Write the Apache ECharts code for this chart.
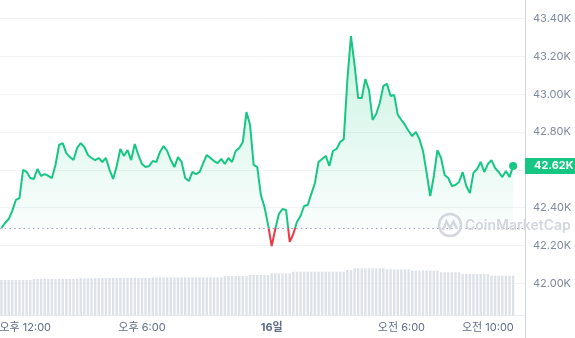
<!DOCTYPE html>
<html><head><meta charset="utf-8">
<script src="https://cdn.jsdelivr.net/npm/echarts@6/dist/echarts.min.js"></script>
<style>html,body{margin:0;padding:0;background:#fff}#c{width:575px;height:338px}</style>
</head><body><div id="c"></div>
<script>
// price (K USD), one reading every 10 minutes starting 15일 11:30
const priceValues = [
42.293,42.319,42.340,42.383,42.441,42.451,42.600,42.589,42.557,42.552,
42.605,42.568,42.578,42.568,42.557,42.626,42.732,42.742,42.689,42.668,
42.652,42.716,42.742,42.721,42.679,42.663,42.652,42.663,42.642,42.663,
42.600,42.552,42.621,42.711,42.674,42.705,42.652,42.737,42.679,42.631,
42.615,42.621,42.647,42.642,42.695,42.726,42.700,42.652,42.615,42.668,
42.642,42.557,42.541,42.589,42.578,42.589,42.636,42.679,42.663,42.647,
42.636,42.658,42.631,42.663,42.642,42.700,42.716,42.748,42.906,42.838,
42.626,42.615,42.467,42.404,42.309,42.197,42.287,42.367,42.393,42.388,
42.219,42.261,42.324,42.356,42.409,42.414,42.473,42.531,42.642,42.658,
42.674,42.621,42.700,42.711,42.748,42.763,43.076,43.308,43.155,42.980,
42.980,43.081,43.023,42.864,42.896,42.954,43.044,43.055,42.991,42.996,
42.891,42.864,42.838,42.806,42.779,42.801,42.763,42.700,42.584,42.462,
42.568,42.705,42.663,42.573,42.557,42.515,42.520,42.536,42.589,42.515,
42.478,42.584,42.605,42.642,42.589,42.631,42.652,42.610,42.589,42.562,
42.594,42.562,42.620];
// volume (B), same timestamps
const volumeValues = [
17.85,17.85,17.85,17.85,17.85,17.85,17.85,17.85,17.85,
18.35,18.35,18.35,18.35,18.35,18.35,18.35,18.35,18.35,18.35,18.35,18.35,18.35,
18.7,18.7,18.7,18.7,18.7,18.7,
18.85,18.85,18.85,18.85,18.85,18.85,18.85,18.85,18.85,18.85,18.85,18.85,18.85,18.85,
19.2,19.2,19.2,19.2,19.2,19.2,19.2,19.2,19.2,19.2,19.2,19.2,19.2,19.2,19.2,19.2,19.2,19.2,19.2,19.2,
19.85,19.85,19.85,19.85,19.85,19.85,19.85,
20.35,20.35,20.35,20.35,20.35,20.35,
21.2,21.2,21.2,21.2,21.2,21.2,
22.0,22.0,22.0,22.0,22.0,22.0,22.0,22.0,22.0,22.0,22.0,22.0,22.0,22.0,22.0,
22.85,22.85,
23.7,23.7,23.7,23.7,23.7,23.7,23.7,23.7,23.7,
23.2,23.2,23.2,23.2,23.2,23.2,23.2,
22.5,22.5,22.5,22.5,22.5,22.5,22.5,22.5,
21.7,21.7,21.7,21.7,21.7,21.7,
20.85,20.85,20.85,20.85,20.85,20.85,20.85,20.85,
20.0,20.0,20.0,20.0,20.0,20.0,20.0];
// time in minutes from 15일 00:00
const startMinute = 11*60+30;
const stepMinutes = 10;
const axisStart = 11*60+26;
const axisEnd = 24*60 + 11*60+43;
const tickTimes = [12*60, 18*60, 24*60, 24*60+6*60, 24*60+10*60];
const tickLabels = ['오후 12:00','오후 6:00','16일','오전 6:00','오전 10:00'];
const priceMin = 42.0, priceMax = 43.4, priceStep = 0.2;

const FONT = "Inter, 'Noto Sans CJK KR', 'Noto Sans', sans-serif";
const GREEN = '#16c784', RED = '#ea3943';
const base = priceValues[0];
const last = priceValues[priceValues.length-1];
const times = priceValues.map((v,i)=>startMinute + i*stepMinutes);
const lineData = priceValues.map((v,i)=>[times[i], v]);
const areaData = priceValues.map((v,i)=>[times[i], Math.max(v, base)]);
const volData = volumeValues.map((v,i)=>[times[i], v]);

const chart = echarts.init(document.getElementById('c'), null, {renderer:'canvas'});
chart.setOption({
  animation:false,
  textStyle:{fontFamily:FONT},
  grid:[
    {left:0, right:50, top:18.7, bottom:54.7, containLabel:false, outerBoundsMode:'none'},
    {left:0, right:50, top:255.7, bottom:22.3, containLabel:false, outerBoundsMode:'none'},
    {left:0, right:50, top:0, bottom:0, containLabel:false, outerBoundsMode:'none'}
  ],
  xAxis:[
    {type:'value', gridIndex:0, min:axisStart, max:axisEnd, show:false},
    {type:'value', gridIndex:1, min:axisStart, max:axisEnd,
      axisLine:{show:true, onZero:false, lineStyle:{color:'#eceff3'}}, axisTick:{show:false}, splitLine:{show:false},
      axisLabel:{show:true, customValues:tickTimes, margin:6, color:'#616e85', fontSize:11, fontFamily:FONT,
        formatter:(val)=>{const k=tickTimes.indexOf(val); if(k<0) return '';
          if(k===0) return '{f|'+tickLabels[k]+'}';
          if(k===2) return '{b|'+tickLabels[k]+'}';
          return tickLabels[k];},
        rich:{f:{padding:[0,0,0,26], color:'#616e85', fontSize:11, fontFamily:FONT},
              b:{fontWeight:'bold', color:'#616e85', fontSize:11, fontFamily:FONT}}}},
    {type:'value', gridIndex:2, min:0, max:1, show:false}
  ],
  yAxis:[
    {type:'value', gridIndex:0, position:'right', min:priceMin, max:priceMax, interval:priceStep,
      axisLine:{show:false}, axisTick:{show:false},
      splitLine:{show:true, lineStyle:{color:'#f0f2f5', width:1}},
      axisLabel:{margin:8, color:'#808a9d', fontSize:11, fontFamily:FONT,
        formatter:(v)=> Math.abs(v-42.6)<1e-6 ? '' : v.toFixed(2)+'K'}},
    {type:'value', gridIndex:1, min:0, max:30, show:false},
    {type:'value', gridIndex:2, min:0, max:1, position:'right',
      axisLine:{show:true, onZero:false, lineStyle:{color:'#cfd3da', width:1}}, axisTick:{show:false},
      axisLabel:{show:false}, splitLine:{show:false}}
  ],
  visualMap:{type:'piecewise', show:false, seriesIndex:1, dimension:1,
    pieces:[{gte:priceMin - 1, lt:base, color:RED},{gte:base, lte:priceMax + 1, color:GREEN}]},
  series:[
    {type:'line', xAxisIndex:0, yAxisIndex:0, data:areaData, symbol:'none', silent:true,
      lineStyle:{width:0, opacity:0},
      areaStyle:{origin:base, color:new echarts.graphic.LinearGradient(0,0,0,1,[
        {offset:0, color:'rgba(22,199,132,0.32)'},{offset:1, color:'rgba(22,199,132,0.03)'}])},
      markLine:{silent:true, symbol:'none', label:{show:false},
        lineStyle:{type:[1.5,3.2], color:'#9aa3b5', width:1},
        data:[{yAxis:base}]},
      z:1},
    {type:'line', xAxisIndex:0, yAxisIndex:0, data:lineData, showSymbol:true, showAllSymbol:true,
      symbol:'circle', symbolSize:(val,p)=> p.dataIndex===priceValues.length-1 ? 8 : 0,
      lineStyle:{width:2}, z:3},
    {type:'line', xAxisIndex:0, yAxisIndex:0, data:[], silent:true, z:5,
      markLine:{silent:true, symbol:'none',
        lineStyle:{color:'rgba(0,0,0,0)', width:0},
        label:{show:true, position:'end', distance:0, formatter:()=>last.toFixed(2)+'K',
            backgroundColor:GREEN, color:'#fff', fontWeight:'bold', fontSize:11, fontFamily:FONT,
            padding:[3,9,2,9]},
        data:[{yAxis:last}]}},
    {type:'bar', xAxisIndex:1, yAxisIndex:1, data:volData, barWidth:2.4,
      itemStyle:{color:'#dde1e8'}, silent:true, z:1}
  ],
  graphic:[
    {type:'circle', shape:{cx:450, cy:225, r:11}, style:{fill:'none', stroke:'#d3d6dd', lineWidth:2.5}, z:10, silent:true},
    {type:'polyline', shape:{points:[[443,230],[446.5,221.5],[450,228],[453.5,221.5],[457,229]]}, style:{fill:'none', stroke:'#d3d6dd', lineWidth:2.3}, z:10, silent:true},
    {type:'text', x:465, y:226, style:{text:'CoinMarketCap', fill:'#d3d6dd', font:"600 14px "+FONT, textVerticalAlign:'middle'}, z:10, silent:true}
  ]
});
</script></body></html>
